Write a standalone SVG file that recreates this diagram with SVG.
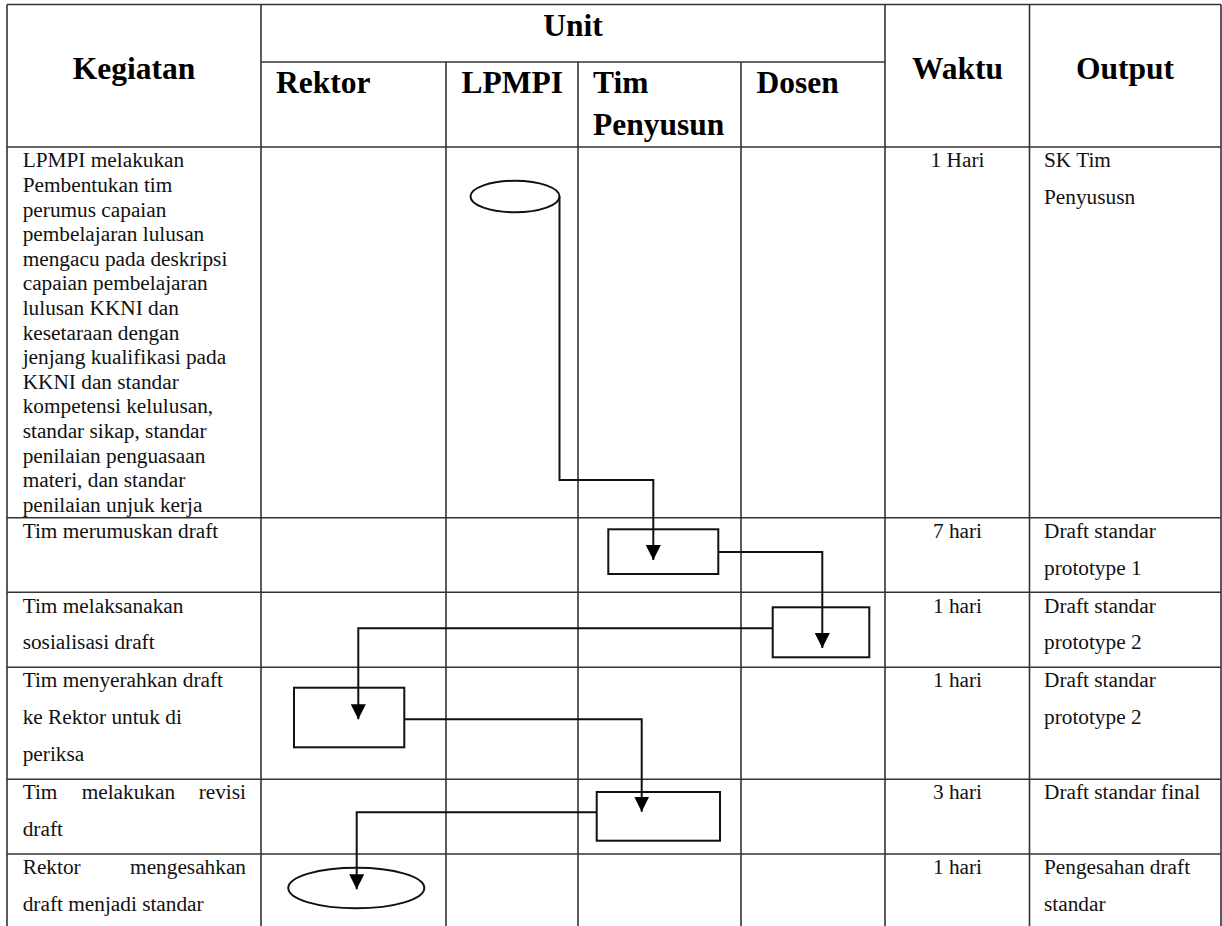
<svg xmlns="http://www.w3.org/2000/svg" width="1222" height="926" viewBox="0 0 1222 926">
<style>
  .grid { stroke: #333; stroke-width: 1.6; fill: none; }
  .hd { font-family: "Liberation Serif", "Times New Roman", serif; font-weight: bold; font-size: 31.5px; fill: #000; }
  .tx { font-family: "Liberation Serif", "Times New Roman", serif; font-size: 21.3px; fill: #111; }
  .c { text-anchor: middle; }
  .e { text-anchor: end; }
  .shape { fill: #fff; stroke: #111; stroke-width: 2; }
  .conn { fill: none; stroke: #111; stroke-width: 2; marker-end: url(#arrow); }
</style>
<defs>
  <marker id="arrow" markerUnits="userSpaceOnUse" markerWidth="16" markerHeight="15" refX="15" refY="7.5" orient="auto">
    <path d="M0,0 L15,7.5 L0,15 Z" fill="#000"/>
  </marker>
</defs>
<rect x="0" y="0" width="1222" height="926" fill="#fff"/>

<g id="table">
  <g class="grid">
    <line x1="7" y1="4.5" x2="1221" y2="4.5"/>
    <line x1="7" y1="4.5" x2="7" y2="926"/>
    <line x1="1221" y1="4.5" x2="1221" y2="926"/>
    <line x1="261" y1="62" x2="885" y2="62"/>
    <line x1="7" y1="147" x2="1221" y2="147"/>
    <line x1="261" y1="4.5" x2="261" y2="926"/>
    <line x1="885" y1="4.5" x2="885" y2="926"/>
    <line x1="1029.5" y1="4.5" x2="1029.5" y2="926"/>
    <line x1="446" y1="62" x2="446" y2="926"/>
    <line x1="578" y1="62" x2="578" y2="926"/>
    <line x1="741" y1="62" x2="741" y2="926"/>
    <line x1="7" y1="517.7" x2="1221" y2="517.7"/>
    <line x1="7" y1="592.3" x2="1221" y2="592.3"/>
    <line x1="7" y1="667.3" x2="1221" y2="667.3"/>
    <line x1="7" y1="779.3" x2="1221" y2="779.3"/>
    <line x1="7" y1="854" x2="1221" y2="854"/>
  </g>
  <g id="header">
    <text class="hd c" x="134" y="78.5">Kegiatan</text>
    <text class="hd c" x="573" y="36">Unit</text>
    <text class="hd" x="276" y="93">Rektor</text>
    <text class="hd" x="461.5" y="93">LPMPI</text>
    <text class="hd" x="593" y="93">Tim</text>
    <text class="hd" x="593" y="135">Penyusun</text>
    <text class="hd" x="756.5" y="93">Dosen</text>
    <text class="hd c" x="957.5" y="79">Waktu</text>
    <text class="hd c" x="1125" y="79">Output</text>
  </g>
  <g id="row1">
    <text class="tx" x="22.7" y="167.3">LPMPI melakukan</text>
    <text class="tx" x="22.7" y="191.9">Pembentukan tim</text>
    <text class="tx" x="22.7" y="216.5">perumus capaian</text>
    <text class="tx" x="22.7" y="241.1">pembelajaran lulusan</text>
    <text class="tx" x="22.7" y="265.7">mengacu pada deskripsi</text>
    <text class="tx" x="22.7" y="290.3">capaian pembelajaran</text>
    <text class="tx" x="22.7" y="314.9">lulusan KKNI dan</text>
    <text class="tx" x="22.7" y="339.5">kesetaraan dengan</text>
    <text class="tx" x="22.7" y="364.1">jenjang kualifikasi pada</text>
    <text class="tx" x="22.7" y="388.7">KKNI dan standar</text>
    <text class="tx" x="22.7" y="413.3">kompetensi kelulusan,</text>
    <text class="tx" x="22.7" y="437.9">standar sikap, standar</text>
    <text class="tx" x="22.7" y="462.5">penilaian penguasaan</text>
    <text class="tx" x="22.7" y="487.1">materi, dan standar</text>
    <text class="tx" x="22.7" y="511.7">penilaian unjuk kerja</text>
    <text class="tx c" x="957.5" y="167.3">1 Hari</text>
    <text class="tx" x="1044" y="167.3">SK Tim</text>
    <text class="tx" x="1044" y="204">Penyususn</text>
  </g>
  <g id="row2">
    <text class="tx" x="22.7" y="537.7">Tim merumuskan draft</text>
    <text class="tx c" x="957.5" y="537.7">7 hari</text>
    <text class="tx" x="1044" y="537.7">Draft standar</text>
    <text class="tx" x="1044" y="574.5">prototype 1</text>
  </g>
  <g id="row3">
    <text class="tx" x="22.7" y="612.7">Tim melaksanakan</text>
    <text class="tx" x="22.7" y="649.3">sosialisasi draft</text>
    <text class="tx c" x="957.5" y="612.7">1 hari</text>
    <text class="tx" x="1044" y="612.7">Draft standar</text>
    <text class="tx" x="1044" y="649.3">prototype 2</text>
  </g>
  <g id="row4">
    <text class="tx" x="22.7" y="687.3">Tim menyerahkan draft</text>
    <text class="tx" x="22.7" y="724.3">ke Rektor untuk di</text>
    <text class="tx" x="22.7" y="760.7">periksa</text>
    <text class="tx c" x="957.5" y="687.3">1 hari</text>
    <text class="tx" x="1044" y="687.3">Draft standar</text>
    <text class="tx" x="1044" y="724.3">prototype 2</text>
  </g>
  <g id="row5">
    <text class="tx" x="22.7" y="799.3">Tim</text>
    <text class="tx" x="81.7" y="799.3">melakukan</text>
    <text class="tx e" x="246" y="799.3">revisi</text>
    <text class="tx" x="22.7" y="836">draft</text>
    <text class="tx c" x="957.5" y="799.3">3 hari</text>
    <text class="tx" x="1044" y="799.3">Draft standar final</text>
  </g>
  <g id="row6">
    <text class="tx" x="22.7" y="874.3">Rektor</text>
    <text class="tx e" x="246" y="874.3">mengesahkan</text>
    <text class="tx" x="22.7" y="911">draft menjadi standar</text>
    <text class="tx c" x="957.5" y="874.3">1 hari</text>
    <text class="tx" x="1044" y="874.3">Pengesahan draft</text>
    <text class="tx" x="1044" y="911">standar</text>
  </g>
</g>

<g id="node-start"><ellipse class="shape" cx="515" cy="196.5" rx="44.5" ry="15.8"/></g>
<g id="node-merumuskan"><rect class="shape" x="608.3" y="529.3" width="110" height="44.7"/></g>
<g id="node-sosialisasi"><rect class="shape" x="772.7" y="607.3" width="96.6" height="50"/></g>
<g id="node-menyerahkan"><rect class="shape" x="294" y="687.7" width="110.3" height="59.6"/></g>
<g id="node-revisi"><rect class="shape" x="596.7" y="792" width="123.3" height="48.7"/></g>
<g id="node-end"><ellipse class="shape" cx="356.3" cy="888" rx="68" ry="20.3"/></g>

<g id="connectors">
  <path class="conn" d="M559.5,196.5 V480 H653.3 V560"/>
  <path class="conn" d="M718.3,552 H822.3 V648"/>
  <path class="conn" d="M772.7,628.3 H358.3 V719.3"/>
  <path class="conn" d="M404.3,719.3 H641.7 V811.7"/>
  <path class="conn" d="M596.7,812.3 H356.7 V889.3"/>
</g>
</svg>
